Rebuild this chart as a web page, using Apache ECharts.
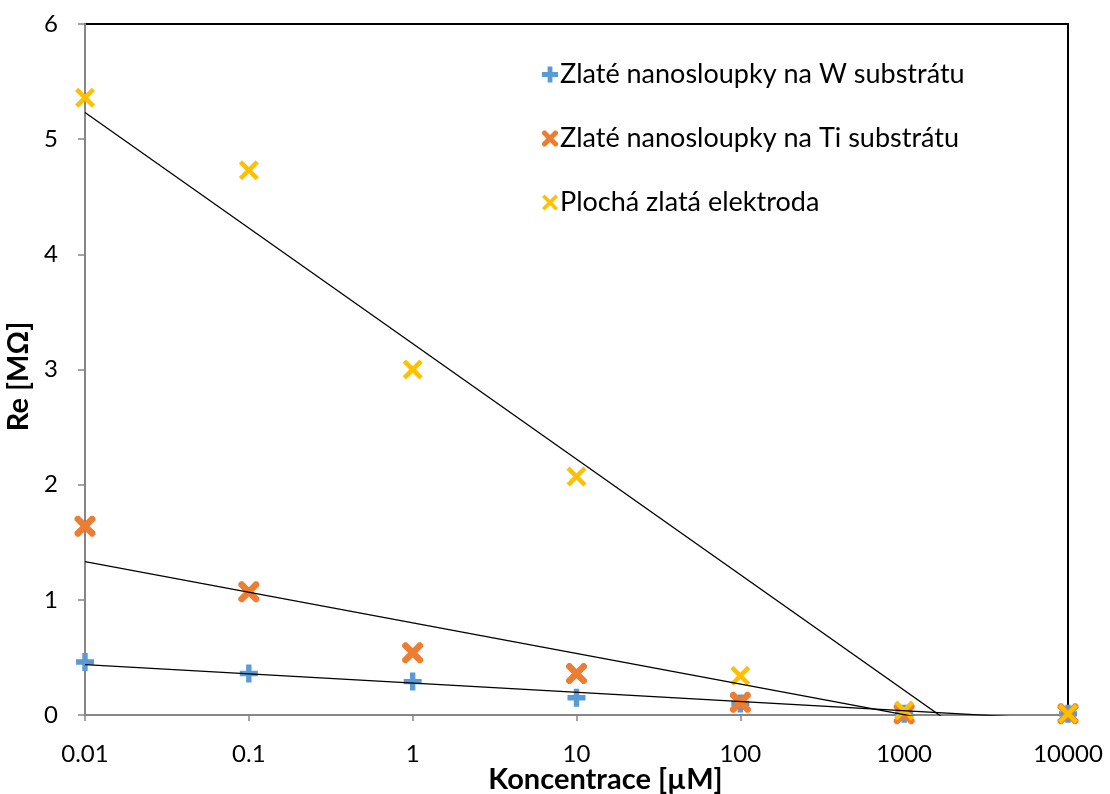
<!DOCTYPE html>
<html>
<head>
<meta charset="utf-8">
<script src="https://cdn.jsdelivr.net/npm/echarts@6/dist/echarts.min.js"></script>
<style>
  html, body { margin: 0; padding: 0; background: #fff; }
  #chart { width: 1110px; height: 794px; }
</style>
</head>
<body>
<div id="chart"></div>
<script>
// Concentrations [µM] (log axis) and measured Re [MΩ]
const concentrations = [0.01, 0.1, 1, 10, 100, 1000, 10000];
const reW = [0.46, 0.36, 0.29, 0.15, 0.10, 0.01, 0.01];
const reTi = [1.64, 1.07, 0.54, 0.36, 0.11, 0.01, 0.01];
const reFlat = [5.36, 4.73, 3.00, 2.07, 0.34, 0.04, 0.01];

const seriesNames = [
  'Zlaté nanosloupky na W substrátu',
  'Zlaté nanosloupky na Ti substrátu',
  'Plochá zlatá elektroda'
];
const seriesColors = ['#5b9bd5', '#ed7d31', '#ffc000'];

const xTitle = 'Koncentrace [µM]';
const yTitle = 'Re [MΩ]';

// Marker shapes
const plusPath = 'path://M35,0 L65,0 L65,35 L100,35 L100,65 L65,65 L65,100 L35,100 L35,65 L0,65 L0,35 L35,35 Z';
const xThin = 'path://M0,16 L16,0 L100,84 L84,100 Z M84,0 L100,16 L16,100 L0,84 Z';
const xThick = 'path://M0,10 L10,0 L22,0 L50,28 L78,0 L90,0 L100,10 L100,22 L72,50 L100,78 L100,90 L90,100 L78,100 L50,72 L22,100 L10,100 L0,90 L0,78 L28,50 L0,22 Z';

// Logarithmic least-squares trendline y = a*log10(x) + b across the x range
function logTrend(xs, ys) {
  const lx = xs.map(v => Math.log10(v));
  const n = lx.length;
  const mx = lx.reduce((s, v) => s + v, 0) / n;
  const my = ys.reduce((s, v) => s + v, 0) / n;
  let sxy = 0, sxx = 0;
  for (let i = 0; i < n; i++) {
    sxy += (lx[i] - mx) * (ys[i] - my);
    sxx += (lx[i] - mx) * (lx[i] - mx);
  }
  const a = sxy / sxx;
  const b = my - a * mx;
  const x0 = xs[0], x1 = xs[n - 1];
  return [[x0, a * Math.log10(x0) + b], [x1, a * Math.log10(x1) + b]];
}

const pairs = ys => concentrations.map((c, i) => [c, ys[i]]);
const allSets = [reW, reTi, reFlat];
const symbols = [plusPath, xThick, xThin];
const symbolSizes = [18, 21, 20];

const series = [];
allSets.forEach((ys, i) => {
  series.push({
    name: seriesNames[i],
    type: 'scatter',
    data: pairs(ys),
    symbol: symbols[i],
    symbolSize: symbolSizes[i],
    itemStyle: { color: seriesColors[i], opacity: 1 },
    z: 2
  });
});
allSets.forEach((ys, i) => {
  series.push({
    name: 'trend' + i,
    type: 'line',
    data: logTrend(concentrations, ys),
    showSymbol: false,
    symbol: 'none',
    clip: true,
    lineStyle: { color: '#000', width: 1.3 },
    silent: true,
    z: 5
  });
});

const chart = echarts.init(document.getElementById('chart'), null, { renderer: 'canvas' });
chart.setOption({
  animation: false,
  backgroundColor: '#fff',
  textStyle: { fontFamily: 'Lato' },
  grid: {
    left: 85, right: 42, top: 24, bottom: 79,
    outerBoundsMode: 'none',
    containLabel: false,
    show: true, borderColor: '#000', borderWidth: 2, backgroundColor: 'transparent'
  },
  legend: {
    data: seriesNames.map((n, i) => ({ name: n, icon: symbols[i], itemStyle: { opacity: 1 } })),
    orient: 'vertical',
    left: 537, top: 56,
    itemGap: 37,
    itemWidth: 16, itemHeight: 16,
    textStyle: { fontFamily: 'Lato', fontSize: 27, color: '#000', padding: [0, 0, 0, -3] }
  },
  xAxis: {
    type: 'log',
    logBase: 10,
    min: 0.01, max: 10000,
    name: xTitle,
    nameLocation: 'middle',
    nameGap: 50,
    nameMoveOverlap: false,
    nameTextStyle: { fontFamily: 'Lato', fontSize: 29, fontWeight: 'bold', color: '#000', padding: [0, 0, 0, 58] },
    axisLine: { show: true, lineStyle: { color: '#868686', width: 2 } },
    axisTick: { show: true, inside: false, length: 6, lineStyle: { color: '#868686', width: 1.5 } },
    minorTick: { show: false },
    splitLine: { show: false },
    axisLabel: {
      margin: 27, fontSize: 24, color: '#000', fontFamily: 'Lato',
      formatter: v => String(+v.toPrecision(6))
    }
  },
  yAxis: {
    type: 'value',
    min: 0, max: 6, interval: 1,
    name: yTitle,
    nameLocation: 'middle',
    nameGap: 49,
    nameRotate: 90,
    nameTextStyle: { fontFamily: 'Lato', fontSize: 29, fontWeight: 'bold', color: '#000', padding: [0, 14, 0, 0] },
    axisLine: { show: true, lineStyle: { color: '#868686', width: 2 } },
    axisTick: { show: true, inside: false, length: 7, lineStyle: { color: '#868686', width: 1.5 } },
    splitLine: { show: false },
    axisLabel: { margin: 27, fontSize: 24, color: '#000', fontFamily: 'Lato' }
  },
  series: series
});
</script>
</body>
</html>
